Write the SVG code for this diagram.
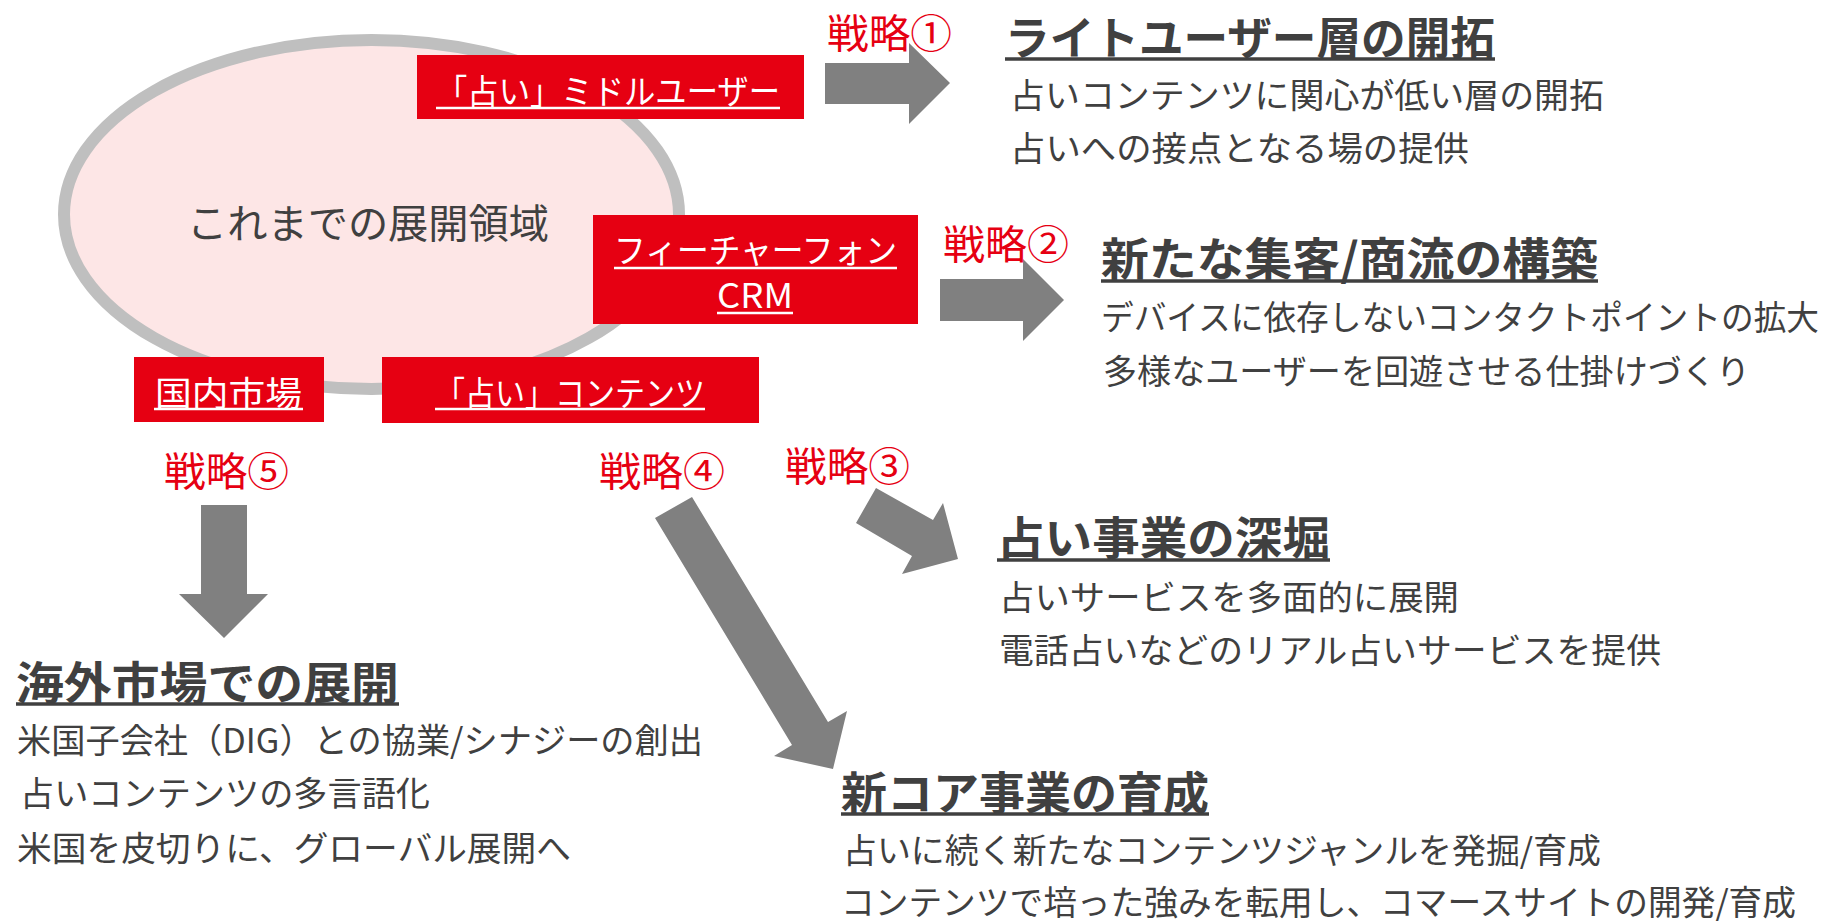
<svg xmlns="http://www.w3.org/2000/svg" width="1838" height="921" viewBox="0 0 1838 921">
<style>
text { font-family: "Noto Sans CJK JP", "Noto Sans CJK SC", sans-serif; }
.box { fill: #e60012; }
.bt { fill: #ffffff; font-size: 34px; }
.ul { stroke: #ffffff; stroke-width: 2.5; }
.lbl { fill: #e60012; font-size: 40px; }
.ttl { fill: #404040; font-size: 45px; font-weight: 700; }
.tul { stroke: #404040; stroke-width: 3.5; }
.sub { fill: #404040; font-size: 34px; }
.arrow { fill: #808080; }
</style>
<rect width="1838" height="921" fill="#ffffff"/>

<g id="domain">
  <ellipse cx="371.5" cy="214.5" rx="307.5" ry="174.5" fill="#fde6e6" stroke="#bfbfbf" stroke-width="12"/>
  <text x="187" y="238" font-size="40" fill="#404040" textLength="362" lengthAdjust="spacingAndGlyphs">これまでの展開領域</text>
</g>

<g id="box-middle-user">
  <rect class="box" x="417" y="55" width="387" height="64"/>
  <text class="bt" x="436" y="104" textLength="344" lengthAdjust="spacingAndGlyphs">「占い」ミドルユーザー</text>
  <line class="ul" x1="436" y1="108" x2="780" y2="108"/>
</g>

<g id="box-feature-phone">
  <rect class="box" x="593" y="215" width="325" height="109"/>
  <text class="bt" x="614" y="263" textLength="283" lengthAdjust="spacingAndGlyphs">フィーチャーフォン</text>
  <line class="ul" x1="614" y1="268" x2="897" y2="268"/>
  <text class="bt" x="717" y="308" textLength="76" lengthAdjust="spacingAndGlyphs">CRM</text>
  <line class="ul" x1="717" y1="313" x2="793" y2="313"/>
</g>

<g id="box-domestic">
  <rect class="box" x="134" y="357" width="190" height="65"/>
  <text class="bt" x="155" y="406" textLength="147" lengthAdjust="spacingAndGlyphs">国内市場</text>
  <line class="ul" x1="154" y1="409" x2="303" y2="409"/>
</g>

<g id="box-contents">
  <rect class="box" x="382" y="357" width="377" height="66"/>
  <text class="bt" x="435" y="406" textLength="270" lengthAdjust="spacingAndGlyphs">「占い」コンテンツ</text>
  <line class="ul" x1="435" y1="409" x2="705" y2="409"/>
</g>

<g id="connectors">
  <polygon class="arrow" points="825,63 909,63 909,43 950,83 909,124 909,104 825,104"/>
  <polygon class="arrow" points="940,279 1023,279 1023,259 1064,300 1023,341 1023,321 940,321"/>
  <polygon class="arrow" points="876,488 933,520 943,503 958,559 902,574 912,556 856,523"/>
  <polygon class="arrow" points="692,497 828,722 847,711 833,769 774,756 792,745 655,518"/>
  <polygon class="arrow" points="201,505 247,505 247,594 268,594 224,638 179,594 201,594"/>
</g>

<g id="strategy-labels">
  <text class="lbl" x="827" y="48" textLength="125" lengthAdjust="spacingAndGlyphs">戦略①</text>
  <text class="lbl" x="943" y="259" textLength="126" lengthAdjust="spacingAndGlyphs">戦略②</text>
  <text class="lbl" x="785" y="481" textLength="125" lengthAdjust="spacingAndGlyphs">戦略③</text>
  <text class="lbl" x="599" y="486" textLength="126" lengthAdjust="spacingAndGlyphs">戦略④</text>
  <text class="lbl" x="164" y="486" textLength="125" lengthAdjust="spacingAndGlyphs">戦略⑤</text>
</g>

<g id="strategy-1">
  <text class="ttl" x="1005" y="55" textLength="490" lengthAdjust="spacingAndGlyphs">ライトユーザー層の開拓</text>
  <line class="tul" x1="1005" y1="59" x2="1495" y2="59"/>
  <text class="sub" x="1010" y="108" textLength="594" lengthAdjust="spacingAndGlyphs">占いコンテンツに関心が低い層の開拓</text>
  <text class="sub" x="1010" y="161" textLength="459" lengthAdjust="spacingAndGlyphs">占いへの接点となる場の提供</text>
</g>

<g id="strategy-2">
  <text class="ttl" x="1101" y="276" textLength="497" lengthAdjust="spacingAndGlyphs">新たな集客/商流の構築</text>
  <line class="tul" x1="1101" y1="281" x2="1598" y2="281"/>
  <text class="sub" x="1101" y="330" textLength="718" lengthAdjust="spacingAndGlyphs">デバイスに依存しないコンタクトポイントの拡大</text>
  <text class="sub" x="1103" y="384" textLength="647" lengthAdjust="spacingAndGlyphs">多様なユーザーを回遊させる仕掛けづくり</text>
</g>

<g id="strategy-3">
  <text class="ttl" x="997" y="555" textLength="333" lengthAdjust="spacingAndGlyphs">占い事業の深堀</text>
  <line class="tul" x1="997" y1="560" x2="1330" y2="560"/>
  <text class="sub" x="999" y="610" textLength="460" lengthAdjust="spacingAndGlyphs">占いサービスを多面的に展開</text>
  <text class="sub" x="999" y="663" textLength="662" lengthAdjust="spacingAndGlyphs">電話占いなどのリアル占いサービスを提供</text>
</g>

<g id="strategy-4">
  <text class="ttl" x="841" y="810" textLength="368" lengthAdjust="spacingAndGlyphs">新コア事業の育成</text>
  <line class="tul" x1="841" y1="814" x2="1209" y2="814"/>
  <text class="sub" x="843" y="863" textLength="758" lengthAdjust="spacingAndGlyphs">占いに続く新たなコンテンツジャンルを発掘/育成</text>
  <text class="sub" x="841" y="915" textLength="955" lengthAdjust="spacingAndGlyphs">コンテンツで培った強みを転用し、コマースサイトの開発/育成</text>
</g>

<g id="strategy-5">
  <text class="ttl" x="16" y="700" textLength="383" lengthAdjust="spacingAndGlyphs">海外市場での展開</text>
  <line class="tul" x1="16" y1="704" x2="399" y2="704"/>
  <text class="sub" x="17" y="753" textLength="686" lengthAdjust="spacingAndGlyphs">米国子会社（DIG）との協業/シナジーの創出</text>
  <text class="sub" x="20" y="806" textLength="410" lengthAdjust="spacingAndGlyphs">占いコンテンツの多言語化</text>
  <text class="sub" x="17" y="861" textLength="554" lengthAdjust="spacingAndGlyphs">米国を皮切りに、グローバル展開へ</text>
</g>
</svg>
